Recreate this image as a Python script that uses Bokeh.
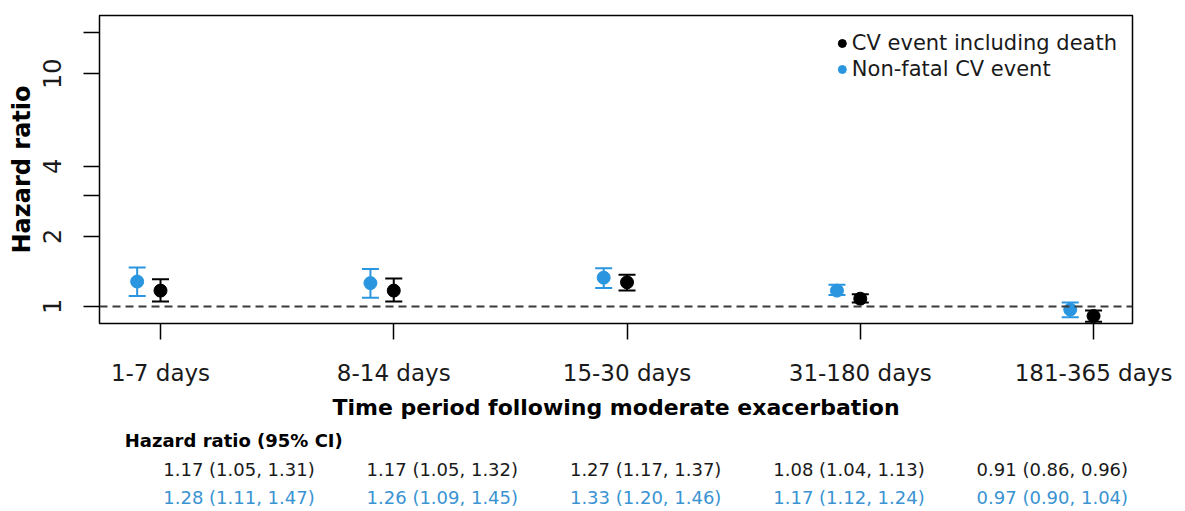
from bokeh.plotting import figure
from bokeh.models import (Range1d, FixedTicker, Whisker, TeeHead, ColumnDataSource,
                          Span, Legend, LegendItem)
from bokeh.layouts import column
from bokeh.embed import file_html
from bokeh.resources import INLINE
from bokeh.core.properties import value

# ---------------- data ----------------
categories = ["1-7 days", "8-14 days", "15-30 days", "31-180 days", "181-365 days"]
series_names = ["CV event including death", "Non-fatal CV event"]
hr_all = [1.17, 1.17, 1.27, 1.08, 0.91]
lo_all = [1.05, 1.05, 1.17, 1.04, 0.86]
hi_all = [1.31, 1.32, 1.37, 1.13, 0.96]
hr_nf = [1.28, 1.26, 1.33, 1.17, 0.97]
lo_nf = [1.11, 1.09, 1.20, 1.12, 0.90]
hi_nf = [1.47, 1.45, 1.46, 1.24, 1.04]
y_ticks = [1, 2, 3, 4, 10, 15]
y_tick_labels = ["1", "2", "", "4", "10", ""]
reference_hr = 1.0
x_title = "Time period following moderate exacerbation"
y_title = "Hazard ratio"
table_title = "Hazard ratio (95% CI)"

# ---------------- layout / style ----------------
BLACK = "black"
TXT = "#1a1a1a"
BLUE = "#2a96e0"
BLUE_TXT = "#3a93d2"
FONT = "DejaVu Sans"
W, H1, H2 = 1185, 425, 86
FL, FR, FT, FB = 99, 1132, 15, 323
x_lo, x_hi = 0.7385, 5.167
y_lo, y_hi = 0.845, 17.8
DODGE = 0.1

x_pos = list(range(1, len(categories) + 1))
x_nf = [x - DODGE for x in x_pos]

p = figure(width=W, height=H1, x_range=Range1d(x_lo, x_hi), y_range=Range1d(y_lo, y_hi),
           y_axis_type="log", output_backend="svg", toolbar_location=None,
           min_border_left=FL, min_border_right=W - FR, min_border_top=FT,
           min_border_bottom=H1 - FB)
p.grid.visible = False
p.outline_line_color = "black"
p.outline_line_width = 1.5

# reference line
p.add_layout(Span(location=reference_hr, dimension="width", line_color="#3a3a3a",
                  line_width=2, line_dash="8 5"))

src_all = ColumnDataSource(dict(x=x_pos, y=hr_all, lo=lo_all, hi=hi_all))
src_nf = ColumnDataSource(dict(x=x_nf, y=hr_nf, lo=lo_nf, hi=hi_nf))

for src, col in ((src_nf, BLUE), (src_all, BLACK)):
    p.add_layout(Whisker(source=src, base="x", lower="lo", upper="hi", dimension="height",
                         line_color=col, line_width=2,
                         upper_head=TeeHead(size=17, line_color=col, line_width=2),
                         lower_head=TeeHead(size=17, line_color=col, line_width=2)))

r_nf = p.scatter("x", "y", source=src_nf, size=13, color=BLUE)
r_all = p.scatter("x", "y", source=src_all, size=13, color=BLACK)

legend = Legend(items=[LegendItem(label=series_names[0], renderers=[r_all]),
                       LegendItem(label=series_names[1], renderers=[r_nf])],
                location="top_right", margin=13, padding=2, spacing=1,
                label_height=25, glyph_height=20, glyph_width=20, label_standoff=0,
                label_text_font=FONT, label_text_font_size="21px", label_text_color=TXT,
                background_fill_alpha=0, border_line_alpha=0)
p.add_layout(legend)

# x axis
xa = p.xaxis[0]
xa.ticker = FixedTicker(ticks=x_pos)
xa.major_label_overrides = {x: c for x, c in zip(x_pos, categories)}
xa.axis_label = x_title
xa.axis_line_color = None
xa.major_tick_in = 0
xa.major_tick_out = 16
xa.major_tick_line_width = 1.5
xa.minor_tick_line_color = None
xa.major_label_standoff = 20
xa.major_label_text_font = FONT
xa.major_label_text_font_size = "23px"
xa.major_label_text_color = TXT
xa.axis_label_text_font = FONT
xa.axis_label_text_font_size = "22px"
xa.axis_label_text_font_style = "bold"
xa.axis_label_text_color = BLACK
xa.axis_label_standoff = 6

# y axis
ya = p.yaxis[0]
ya.ticker = FixedTicker(ticks=y_ticks)
ya.major_label_overrides = {t: l for t, l in zip(y_ticks, y_tick_labels)}
ya.axis_label = y_title
ya.axis_line_color = None
ya.major_tick_in = 0
ya.major_tick_out = 16
ya.major_tick_line_width = 1.5
ya.minor_tick_line_color = None
ya.major_label_orientation = "vertical"
ya.major_label_standoff = 22
ya.major_label_text_font = FONT
ya.major_label_text_font_size = "24px"
ya.major_label_text_color = TXT
ya.axis_label_text_font = FONT
ya.axis_label_text_font_size = "24px"
ya.axis_label_text_font_style = "bold"
ya.axis_label_text_color = BLACK
ya.axis_label_standoff = 5

# ---------------- table of estimates ----------------
scale = (FR - FL) / (x_hi - x_lo)
x2_lo = x_lo - FL / scale
x2_hi = x_hi + (W - FR) / scale
ROW = 28.5
y2_top = -15 / ROW
y2_bot = y2_top + H2 / ROW

t = figure(width=W, height=H2, x_range=Range1d(x2_lo, x2_hi), y_range=Range1d(y2_bot, y2_top),
           output_backend="svg", toolbar_location=None, min_border=0,
           x_axis_location=None, y_axis_location=None)
t.grid.visible = False
t.outline_line_color = None

row_all = [f"{h:.2f} ({l:.2f}, {u:.2f})" for h, l, u in zip(hr_all, lo_all, hi_all)]
row_nf = [f"{h:.2f} ({l:.2f}, {u:.2f})" for h, l, u in zip(hr_nf, lo_nf, hi_nf)]

t.text(x=[x2_lo + 29 / scale], y=[0], text=[table_title], text_align="left",
       text_baseline="middle", text_font=value(FONT), text_font_size="18px",
       text_font_style="bold", text_color=BLACK)
t.text(x=x_pos, y=[1] * len(x_pos), text=row_all, text_align="center",
       text_baseline="middle", text_font=value(FONT), text_font_size="18px",
       text_color=TXT)
t.text(x=x_pos, y=[2] * len(x_pos), text=row_nf, text_align="center",
       text_baseline="middle", text_font=value(FONT), text_font_size="18px",
       text_color=BLUE_TXT)

layout = column(p, t, spacing=0)
open("out.html", "w").write(file_html(layout, INLINE))
